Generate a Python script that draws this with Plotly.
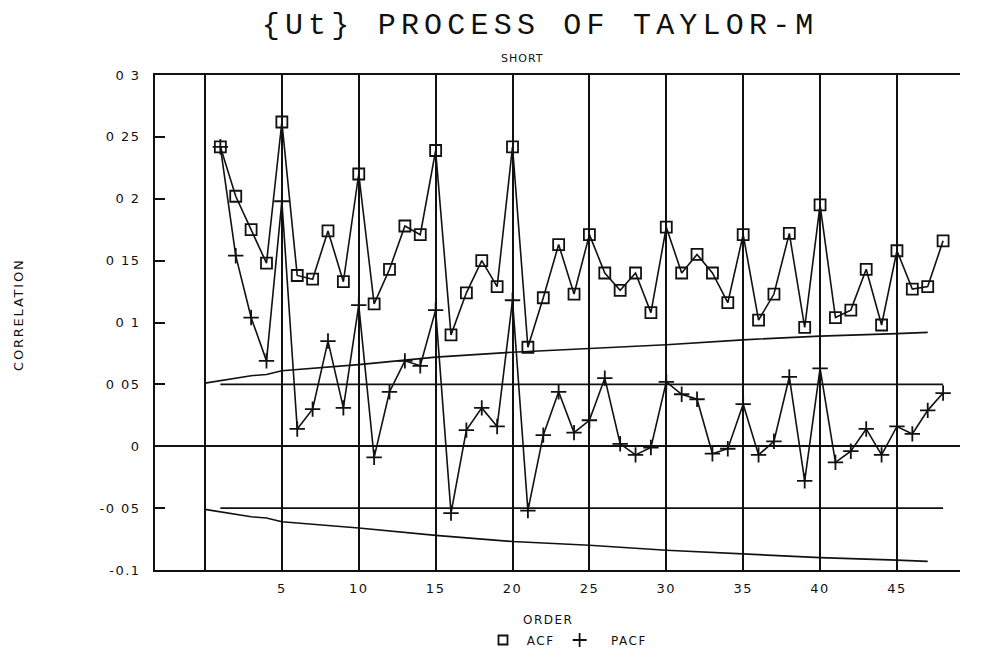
import plotly.graph_objects as go

# ---- data ----
lags = list(range(1, 49))
acf = [0.242, 0.202, 0.175, 0.148, 0.262, 0.138, 0.135, 0.174, 0.133, 0.220,
       0.115, 0.143, 0.178, 0.171, 0.239, 0.090, 0.124, 0.150, 0.129, 0.242,
       0.080, 0.120, 0.163, 0.123, 0.171, 0.140, 0.126, 0.140, 0.108, 0.177,
       0.140, 0.155, 0.140, 0.116, 0.171, 0.102, 0.123, 0.172, 0.096, 0.195,
       0.104, 0.110, 0.143, 0.098, 0.158, 0.127, 0.129, 0.166]
pacf = [0.242, 0.154, 0.104, 0.069, 0.198, 0.014, 0.030, 0.085, 0.031, 0.114,
        -0.009, 0.044, 0.069, 0.065, 0.110, -0.054, 0.013, 0.031, 0.016, 0.118,
        -0.052, 0.009, 0.044, 0.011, 0.021, 0.055, 0.002, -0.007, -0.001, 0.052,
        0.042, 0.038, -0.006, -0.002, 0.034, -0.007, 0.004, 0.056, -0.028, 0.063,
        -0.013, -0.004, 0.014, -0.007, 0.016, 0.010, 0.029, 0.043]

band_lags = [0, 1, 2, 3, 4, 5, 10, 15, 20, 25, 30, 35, 40, 45, 47]
band_upper = [0.051, 0.053, 0.055, 0.057, 0.058, 0.061, 0.066, 0.072, 0.076,
              0.079, 0.082, 0.086, 0.089, 0.091, 0.092]
band_lower = [-0.051, -0.053, -0.055, -0.057, -0.058, -0.061, -0.066, -0.072,
              -0.077, -0.080, -0.084, -0.087, -0.090, -0.092, -0.093]

limit_lags = [1, 48]
limit_upper = [0.05, 0.05]
limit_lower = [-0.05, -0.05]

x_tickvals = [0, 5, 10, 15, 20, 25, 30, 35, 40, 45]
x_ticktext = ["", "5", "10", "15", "20", "25", "30", "35", "40", "45"]
y_tickvals = [0.3, 0.25, 0.2, 0.15, 0.1, 0.05, 0, -0.05, -0.1]
y_ticktext = ["0 3", "0 25", "0 2", "0 15", "0 1", "0 05", "0", "-0 05", "-0.1"]

BLACK = "#111111"
LW = 1.6
FONT = "DejaVu Sans"


def spaced(t, px):
    return '<span style="letter-spacing:%spx">%s</span>' % (px, t)


fig = go.Figure()

for xs, ys in [(band_lags, band_upper), (band_lags, band_lower),
               (limit_lags, limit_upper), (limit_lags, limit_lower)]:
    fig.add_trace(go.Scatter(x=xs, y=ys, mode="lines",
                             line=dict(color=BLACK, width=LW),
                             showlegend=False, hoverinfo="skip"))

fig.add_trace(go.Scatter(x=lags, y=acf, mode="lines+markers", name="ACF",
                         line=dict(color=BLACK, width=LW),
                         marker=dict(symbol="square-open", size=11,
                                     color=BLACK, line=dict(width=1.8)),
                         showlegend=False))
fig.add_trace(go.Scatter(x=lags, y=pacf, mode="lines+markers", name="PACF",
                         line=dict(color=BLACK, width=LW),
                         marker=dict(symbol="cross-thin-open", size=11,
                                     color=BLACK, line=dict(width=1.8, color=BLACK)),
                         showlegend=False))

# legend-only entries (markers only, as in the reference)
fig.add_trace(go.Scatter(x=[None], y=[None], mode="markers",
                         name="&nbsp;" + spaced("ACF", 1.5),
                         marker=dict(symbol="square-open", size=9, color=BLACK,
                                     line=dict(width=1.8))))
fig.add_trace(go.Scatter(x=[None], y=[None], mode="markers",
                         name="&nbsp;&nbsp;&nbsp;" + spaced("PACF", 1.5),
                         marker=dict(symbol="cross-thin-open", size=10, color=BLACK,
                                     line=dict(width=1.8, color=BLACK))))

W, H = 980, 651
L, T, R, B = 147, 67, 28, 89
PW, PH = W - L - R, H - T - B

fig.update_layout(
    width=W, height=H,
    margin=dict(l=L, r=R, t=T, b=B, autoexpand=False),
    paper_bgcolor="white", plot_bgcolor="white",
    font=dict(family=FONT, color=BLACK, size=12),
    title=dict(text=spaced("{Ut} PROCESS OF TAYLOR-M", 5.2),
               x=0.543, xanchor="center", y=1 - 15 / H, yanchor="middle",
               font=dict(family="Liberation Mono", size=30, color=BLACK)),
    xaxis=dict(range=[-3.25, 49.1], tickvals=x_tickvals,
               ticktext=[spaced(t, 1.5) for t in x_ticktext],
               showgrid=True, gridcolor=BLACK, gridwidth=LW, zeroline=False,
               showline=True, linecolor=BLACK, linewidth=LW, mirror=True,
               ticks="", ticklabelstandoff=6, automargin=False,
               tickfont=dict(size=13, family=FONT)),
    yaxis=dict(range=[-0.1, 0.3], tickvals=y_tickvals,
               ticktext=[spaced(t, 1.5) for t in y_ticktext],
               showgrid=False, zeroline=True, zerolinecolor=BLACK, zerolinewidth=LW,
               showline=True, linecolor=BLACK, linewidth=LW, mirror=False,
               ticks="inside", ticklen=10, tickcolor=BLACK, tickwidth=LW,
               ticklabelstandoff=10, automargin=False,
               tickfont=dict(size=13, family=FONT)),
    legend=dict(orientation="h", x=(475 - L) / PW, xanchor="left",
                y=(H - B - 632) / PH, yanchor="middle",
                font=dict(size=12, family=FONT), bgcolor="rgba(0,0,0,0)"),
    annotations=[
        dict(text=spaced("SHORT", 1), xref="paper", yref="paper",
             x=(514 - L) / PW, y=1 + (T - 50) / PH,
             showarrow=False, font=dict(size=11, family=FONT), yanchor="middle"),
        dict(text=spaced("ORDER", 1.5), xref="paper", yref="paper",
             x=(540 - L) / PW, y=(H - B - 612) / PH,
             showarrow=False, font=dict(size=12, family=FONT), yanchor="middle"),
        dict(text=spaced("CORRELATION", 1.8), xref="paper", yref="paper",
             x=(10 - L) / PW, y=(H - B - 307) / PH,
             textangle=-90, showarrow=False, font=dict(size=13, family=FONT),
             xanchor="center", yanchor="middle"),
    ],
)

fig.write_html("out.html")
